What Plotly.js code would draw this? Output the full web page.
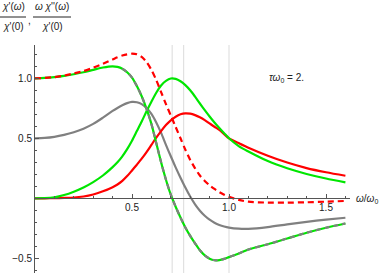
<!DOCTYPE html>
<html>
<head>
<meta charset="utf-8">
<script src="https://cdn.plot.ly/plotly-3.0.1.min.js"></script>
<style>html,body{margin:0;padding:0;background:#fff}#chart{width:382px;height:273px}</style>
</head>
<body>
<div id="chart"></div>
<script>
// frequency grid (omega/omega0)
var omega = [0,0.05,0.1,0.15,0.2,0.25,0.3,0.35,0.4,0.425,0.45,0.475,0.5,0.525,0.55,0.575,0.6,0.625,0.65,0.675,0.7,0.725,0.75,0.775,0.8,0.825,0.85,0.875,0.9,0.925,0.95,0.975,1.0,1.05,1.1,1.2,1.3,1.4,1.5,1.6];
// green: chi'(w)/chi'(0)
var greenRe = [1.0,1.003,1.01,1.02,1.034,1.05,1.07,1.09,1.1,1.095,1.08,1.05,1.005,0.935,0.85,0.745,0.62,0.46,0.3,0.155,0.03,-0.07,-0.16,-0.243,-0.313,-0.375,-0.433,-0.476,-0.503,-0.516,-0.515,-0.505,-0.49,-0.46,-0.427,-0.383,-0.335,-0.287,-0.245,-0.21];
// green: w chi''(w)/chi'(0)
var greenIm = [0,0.001,0.008,0.027,0.055,0.09,0.135,0.19,0.26,0.3,0.35,0.41,0.48,0.56,0.64,0.725,0.805,0.88,0.94,0.978,0.998,0.995,0.975,0.943,0.9,0.847,0.79,0.735,0.682,0.632,0.586,0.542,0.5,0.435,0.39,0.31,0.25,0.203,0.165,0.133];
// red dashed: real part
var redRe = [1.0,1.003,1.01,1.022,1.04,1.06,1.088,1.12,1.157,1.175,1.19,1.2,1.205,1.2,1.178,1.135,1.07,0.985,0.885,0.785,0.69,0.595,0.5,0.405,0.32,0.25,0.19,0.145,0.108,0.078,0.052,0.03,0.012,-0.013,-0.028,-0.036,-0.036,-0.033,-0.028,-0.022];
// red solid: imaginary part
var redIm = [0,0,0.001,0.003,0.006,0.015,0.032,0.058,0.093,0.115,0.145,0.185,0.232,0.28,0.33,0.385,0.445,0.505,0.56,0.61,0.65,0.68,0.7,0.708,0.705,0.693,0.675,0.652,0.624,0.596,0.57,0.535,0.5,0.46,0.422,0.355,0.298,0.252,0.217,0.188];
// gray solid
var grayRe = [0.5,0.503,0.512,0.528,0.55,0.58,0.62,0.672,0.728,0.753,0.775,0.793,0.803,0.8,0.785,0.752,0.703,0.632,0.545,0.445,0.35,0.258,0.172,0.09,0.015,-0.05,-0.103,-0.145,-0.178,-0.203,-0.222,-0.235,-0.244,-0.253,-0.254,-0.24,-0.217,-0.196,-0.178,-0.162];
// reference frequencies (vertical lines)
var refLines = [0.7071, 0.766, 1.0];
var xTicks = [0.5, 1.0, 1.5];
var xTickText = ["0.5", "1.0", "1.5"];
var yTicks = [-0.5, 0.5, 1.0];
var yTickText = ["\u22120.5", "0.5", "1.0"];
var grayStart = 0.45;

var GREEN = 'rgb(0,230,0)', RED = 'rgb(255,0,0)', GRAY = 'rgb(128,128,128)';
var gx = [], gy = [];
for (var i = 0; i < omega.length; i++) { if (omega[i] >= grayStart) { gx.push(omega[i]); gy.push(greenRe[i]); } }

var traces = [
  {x: omega, y: grayRe, mode: 'lines', line: {color: GRAY, width: 2.2, shape: 'spline', smoothing: 0.8}},
  {x: omega, y: redIm, mode: 'lines', line: {color: RED, width: 2.2, shape: 'spline', smoothing: 0.8}},
  {x: omega, y: greenIm, mode: 'lines', line: {color: GREEN, width: 2.2, shape: 'spline', smoothing: 0.8}},
  {x: omega, y: greenRe, mode: 'lines', line: {color: GREEN, width: 2.2, shape: 'spline', smoothing: 0.8}},
  {x: gx, y: gy, mode: 'lines', line: {color: GRAY, width: 2.2, dash: '5px,4px', shape: 'spline', smoothing: 0.8}},
  {x: omega, y: redRe, mode: 'lines', line: {color: RED, width: 2.2, dash: '6px,4px', shape: 'spline', smoothing: 0.8}}
];

var shapes = refLines.map(function (v) {
  return {type: 'line', xref: 'x', yref: 'paper', x0: v, x1: v, y0: 0, y1: 1, layer: 'below',
          line: {color: 'rgb(225,225,225)', width: 1.2}};
});
// fraction bars of the axis label
shapes.push({type: 'line', xref: 'paper', yref: 'paper', x0: -35/315, x1: -9/315, y0: 1 + 28/228, y1: 1 + 28/228, line: {color: '#222', width: 1}});
shapes.push({type: 'line', xref: 'paper', yref: 'paper', x0: -2/315, x1: 36/315, y0: 1 + 28/228, y1: 1 + 28/228, line: {color: '#222', width: 1}});

var FONT = 'Liberation Sans, Arial, sans-serif';
function ann(text, xpx, ypx, size, anchor) {
  return {xref: 'paper', yref: 'paper', x: (xpx - 35) / 315, y: (273 - ypx) / 228, text: text, showarrow: false,
          xanchor: anchor || 'center', yanchor: 'middle', font: {family: FONT, size: size || 10, color: '#222'}};
}
var annotations = [
  ann("<i>\u03c7</i>'(<i>\u03c9</i>)", 13, 7, 10),
  ann("<i>\u03c7</i>'(0)", 13, 27, 10),
  ann(",", 29, 21, 10),
  ann("<i>\u03c9 \u03c7</i>''(<i>\u03c9</i>)", 52, 7, 10),
  ann("<i>\u03c7</i>'(0)", 52, 27, 10),
  ann("<i>\u03c4\u03c9</i><sub>0</sub> = 2.", 286, 78, 10),
  ann("<i>\u03c9</i>/<i>\u03c9</i><sub>0</sub>", 354, 199, 10, 'left')
];

var layout = {
  width: 382, height: 273,
  margin: {l: 35, r: 32, t: 45, b: 0, pad: 0},
  paper_bgcolor: '#fff', plot_bgcolor: '#fff',
  showlegend: false,
  font: {family: FONT, size: 10, color: '#222'},
  xaxis: {
    range: [0, 1.6237], anchor: 'free', position: (273 - 198.3) / 228,
    showline: true, linecolor: '#555', linewidth: 1, zeroline: false, showgrid: false,
    tickmode: 'array', tickvals: xTicks, ticktext: xTickText, ticks: 'inside', ticklen: 4, tickcolor: '#555',
    minor: {tickmode: 'linear', tick0: 0, dtick: 0.1, ticks: 'inside', ticklen: 2, tickcolor: '#555', showgrid: false},
    tickfont: {family: FONT, size: 10, color: '#222'}
  },
  yaxis: {
    range: [-0.6225, 1.2775],
    showline: true, linecolor: '#555', linewidth: 1, zeroline: false, showgrid: false,
    tickmode: 'array', tickvals: yTicks, ticktext: yTickText, ticks: 'inside', ticklen: 4, tickcolor: '#555',
    minor: {tickmode: 'linear', tick0: 0, dtick: 0.1, ticks: 'inside', ticklen: 2, tickcolor: '#555', showgrid: false},
    tickfont: {family: FONT, size: 10, color: '#222'}
  },
  shapes: shapes,
  annotations: annotations
};

Plotly.newPlot('chart', traces, layout, {staticPlot: true, displayModeBar: false});
</script>
</body>
</html>
